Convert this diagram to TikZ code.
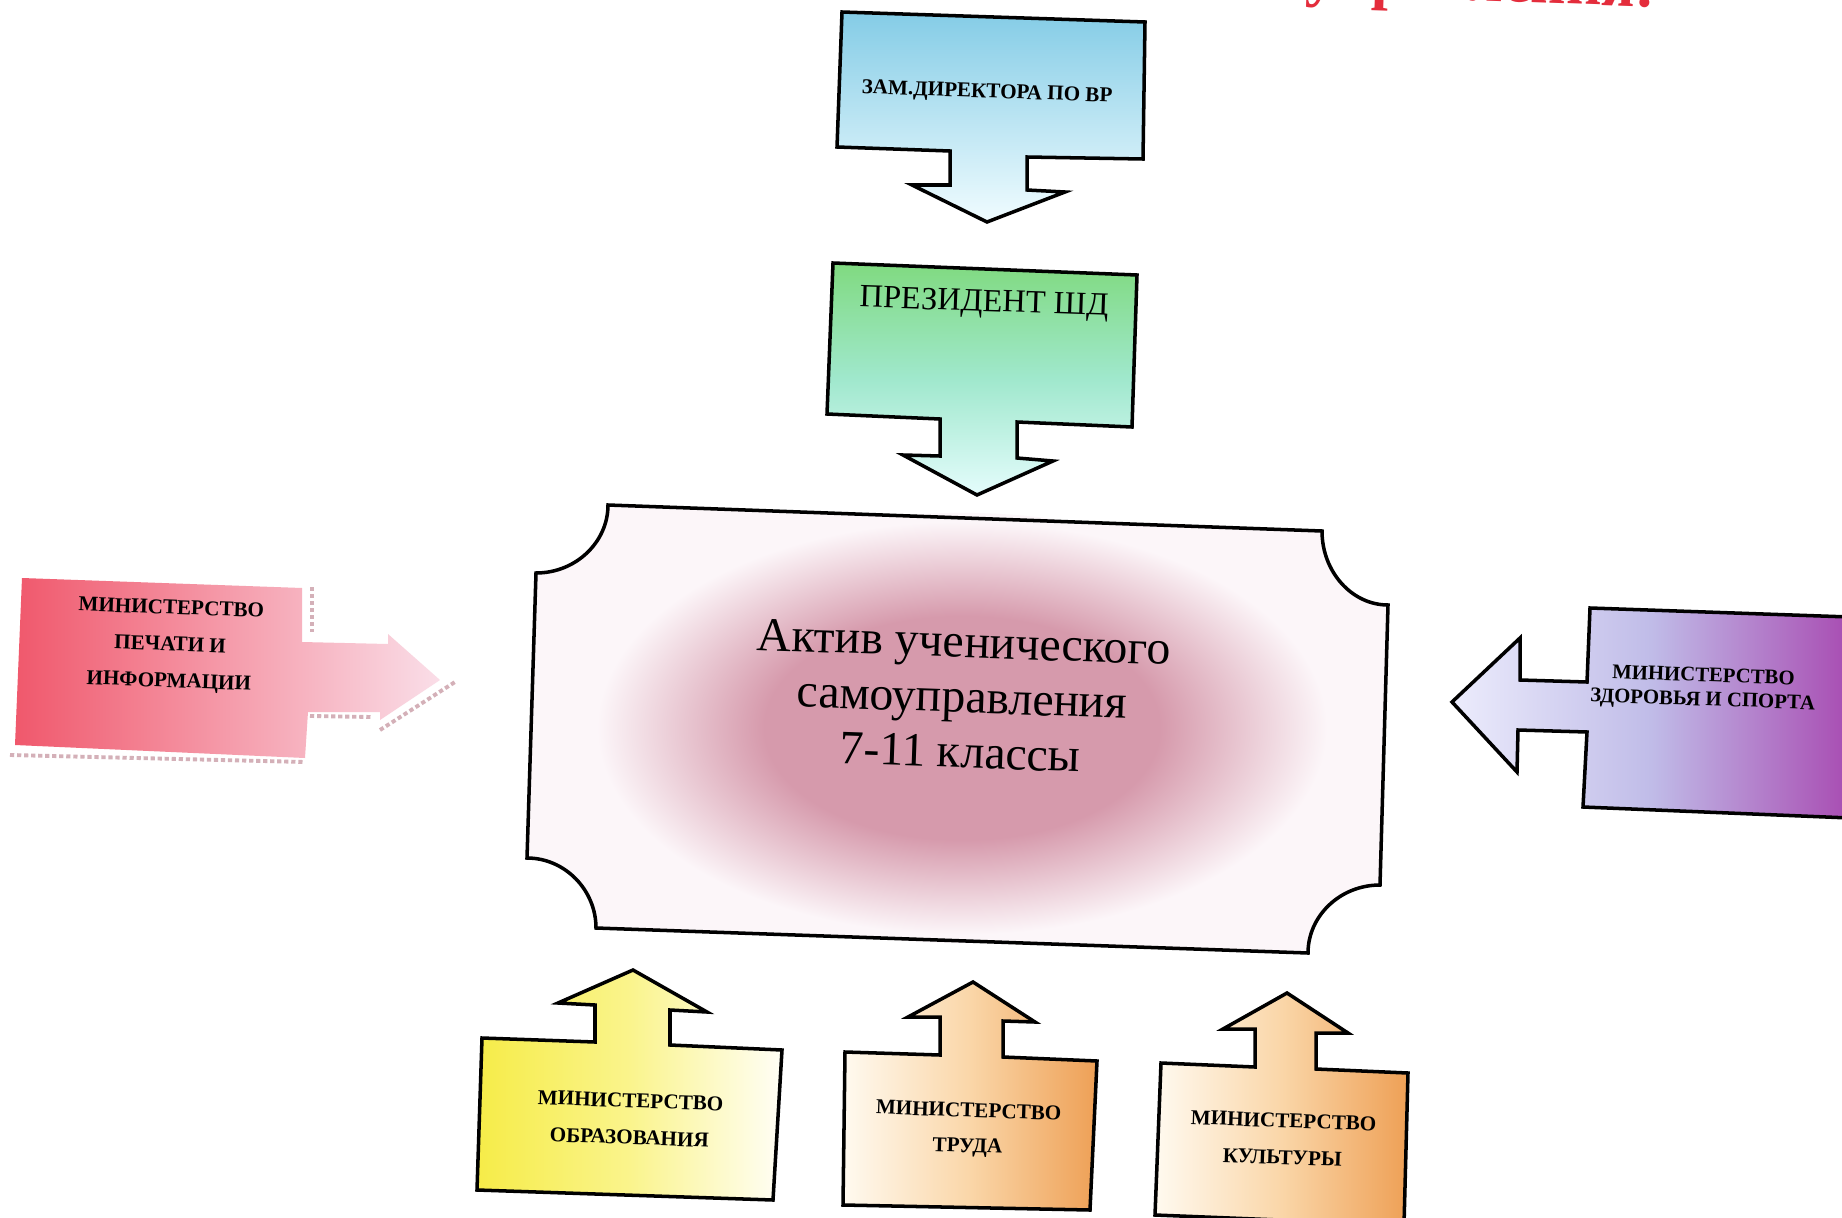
\documentclass[tikz,border=0pt]{standalone}
\usepackage{fontspec}
\setmainfont{Liberation Serif}
\usepackage{xcolor}

\definecolor{zamtop}{RGB}{132,204,230}
\definecolor{zambot}{RGB}{240,252,255}
\definecolor{preztop}{RGB}{128,218,128}
\definecolor{prezmid}{RGB}{160,232,205}
\definecolor{prezbot}{RGB}{228,252,252}
\definecolor{redleft}{RGB}{240,88,108}
\definecolor{redright}{RGB}{250,222,232}
\definecolor{shadowpink}{RGB}{212,176,184}
\definecolor{purpleft}{RGB}{236,236,252}
\definecolor{purpmid}{RGB}{192,188,232}
\definecolor{purpright}{RGB}{168,76,178}
\definecolor{yelleft}{RGB}{246,236,72}
\definecolor{yelmid}{RGB}{250,244,140}
\definecolor{yelright}{RGB}{255,254,246}
\definecolor{orleft}{RGB}{255,250,240}
\definecolor{ormid}{RGB}{250,214,168}
\definecolor{orright}{RGB}{238,160,86}
\definecolor{aktivbg}{RGB}{252,246,249}
\definecolor{aktivpink}{RGB}{214,154,172}
\definecolor{titlered}{RGB}{228,45,60}

\pgfdeclareradialshading{aktivblob}{\pgfpoint{0bp}{0bp}}{color(0bp)=(aktivpink); color(13bp)=(aktivpink); color(24bp)=(aktivbg); color(25bp)=(aktivbg); color(50bp)=(aktivbg)}

\begin{document}
\begin{tikzpicture}[x=0.01cm,y=-0.01cm,
    box/.style={draw=black,line width=1pt,line join=miter},
    redshadow/.style={draw=shadowpink,line width=1.1pt,dash pattern=on 1.2pt off 0.8pt},
    lbl/.style={font=\fontsize{6}{10.4}\selectfont\bfseries,align=center,inner sep=0pt,rotate=-2}]

        \clip (0,0) rectangle (1842,1218);
        \fill[white] (0,0) rectangle (1842,1218);

        % title, cut off at the top edge
        \node[font=\fontsize{17.5}{17.5}\selectfont\bfseries,text=titlered,inner sep=0pt,anchor=base east,rotate=-2] (title) at (1656,7) {управления!};

        % top: deputy director
        \shadedraw[box,top color=zamtop,bottom color=zambot] (842,12) -- (1145,22) -- (1143,159) -- (1027,157) -- (1027,190) -- (1065,192) -- (987,222) -- (912,185) -- (950,185) -- (950,151) -- (837,147) -- cycle;
        \node[lbl] (zam) at (987,93) {ЗАМ.ДИРЕКТОРА ПО ВР};

        % president
        \shadedraw[box,top color=preztop,bottom color=prezbot,middle color=prezmid] (833,263) -- (1137,275) -- (1132,427) -- (1017,422) -- (1017,458) -- (1053,461) -- (977,495) -- (903,455) -- (940,456) -- (940,419) -- (827,414) -- cycle;
        \node[font=\fontsize{9.2}{11}\selectfont,inner sep=0pt,rotate=-2] (prez) at (984,304) {ПРЕЗИДЕНТ ШД};

        % central board
        \fill[aktivbg] (608,505) -- (1322,531) .. controls (1322,572) and (1352,605) .. (1388,605) -- (1380,885) .. controls (1340,885) and (1308,916) .. (1308,953) -- (596,928) .. controls (596,890) and (565,858) .. (527,858) -- (536,573) .. controls (576,573) and (608,542) .. (608,505) -- cycle;
        \shade[shading=aktivblob] (962,728) ellipse [x radius=3.8cm,y radius=2.15cm];
        \draw[box] (608,505) -- (1322,531) .. controls (1322,572) and (1352,605) .. (1388,605) -- (1380,885) .. controls (1340,885) and (1308,916) .. (1308,953) -- (596,928) .. controls (596,890) and (565,858) .. (527,858) -- (536,573) .. controls (576,573) and (608,542) .. (608,505) -- cycle;
        \node[font=\fontsize{13.6}{15.7}\selectfont,align=center,inner sep=0pt,rotate=-2] (aktiv) at (962,697) {Актив ученического\\самоуправления\\7-11 классы};

        % left: press and information
        \shade[left color=redleft,right color=redright] (22,578) -- (302,588) -- (302,642) -- (388,644) -- (388,634) -- (440,680) -- (380,720) -- (380,712) -- (308,712) -- (305,758) -- (15,745) -- cycle;
        \draw[redshadow] (10,755) -- (305,762);
        \draw[redshadow] (312,587) -- (312,632);
        \draw[redshadow] (310,716) -- (372,717);
        \draw[redshadow] (380,730) -- (455,682);
        \node[lbl] (pechat) at (170,646) {МИНИСТЕРСТВО\\ПЕЧАТИ И\\ИНФОРМАЦИИ};

        % right: health and sport
        \shadedraw[box,left color=purpleft,right color=purpright,middle color=purpmid] (1452,702) -- (1520,638) -- (1520,680) -- (1587,682) -- (1590,608) -- (1850,617) -- (1850,818) -- (1583,807) -- (1587,732) -- (1518,730) -- (1517,772) -- cycle;
        \node[lbl,font=\fontsize{5.9}{6.8}\selectfont\bfseries] (zdorov) at (1703,689) {МИНИСТЕРСТВО\\ЗДОРОВЬЯ И СПОРТА};

        % bottom: education
        \shadedraw[box,left color=yelleft,right color=yelright,middle color=yelmid] (633,970) -- (707,1012) -- (670,1010) -- (670,1045) -- (782,1050) -- (773,1200) -- (477,1190) -- (482,1038) -- (595,1042) -- (595,1005) -- (558,1003) -- cycle;
        \node[lbl,font=\fontsize{6}{10.5}\selectfont\bfseries] (obraz) at (630,1119) {МИНИСТЕРСТВО\\ОБРАЗОВАНИЯ};

        % bottom: labour
        \shadedraw[box,left color=orleft,right color=orright,middle color=ormid] (973,982) -- (1035,1022) -- (1003,1021) -- (1003,1057) -- (1097,1061) -- (1090,1210) -- (843,1205) -- (845,1052) -- (940,1055) -- (940,1017) -- (908,1017) -- cycle;
        \node[lbl,font=\fontsize{6}{10}\selectfont\bfseries] (trud) at (968,1130) {МИНИСТЕРСТВО\\ТРУДА};

        % bottom: culture
        \shadedraw[box,left color=orleft,right color=orright,middle color=ormid] (1287,993) -- (1348,1033) -- (1316,1033) -- (1316,1069) -- (1408,1073) -- (1404,1225) -- (1155,1215) -- (1161,1063) -- (1255,1067) -- (1255,1029) -- (1223,1029) -- cycle;
        \node[lbl,font=\fontsize{6}{10.5}\selectfont\bfseries] (kult) at (1283,1139) {МИНИСТЕРСТВО\\КУЛЬТУРЫ};

    \end{tikzpicture}
\end{document}
